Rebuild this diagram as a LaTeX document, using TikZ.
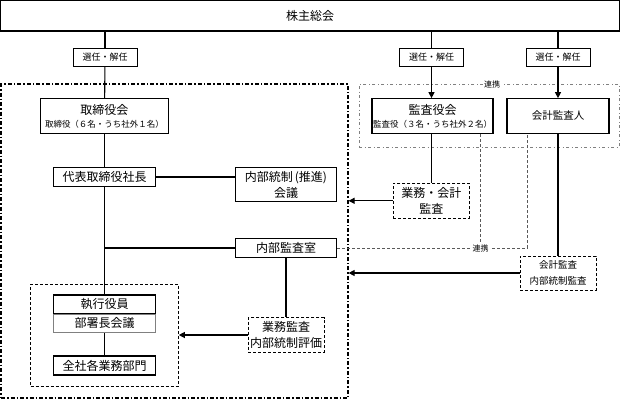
\documentclass[tikz,border=0pt]{standalone}
\usepackage{fontspec}
\setmainfont{Noto Sans CJK JP}
\usetikzlibrary{arrows.meta}

\begin{document}
\begin{tikzpicture}[x=1pt, y=-1pt,
    box/.style={draw, line width=1.1pt, fill=white, inner sep=0pt, align=center, font=\fontsize{12}{16}\selectfont},
    selbox/.style={draw, line width=1pt, fill=white, inner sep=0pt, minimum width=64pt, minimum height=18.5pt, font=\fontsize{9}{10}\selectfont},
    audit/.style={draw, line width=1pt, dash pattern=on 3pt off 2pt, fill=white, inner sep=0pt, align=center, font=\fontsize{12}{16}\selectfont},
    frame/.style={draw, line width=1.2pt, dash pattern=on 4pt off 2pt on 1.5pt off 2pt, inner sep=0pt},
    grayframe/.style={draw=gray, line width=0.9pt, dash pattern=on 3pt off 2.5pt on 1pt off 2.5pt, inner sep=0pt},
    renkei/.style={draw=gray!70!black, line width=0.8pt, dash pattern=on 3pt off 2pt},
    tag/.style={fill=white, inner sep=1.5pt, font=\fontsize{8}{9}\selectfont},
    line/.style={line width=1.1pt},
    arr/.style={line width=1.1pt, -{Triangle[length=6pt,width=6pt]}}]
        \useasboundingbox (0, 0) rectangle (621, 402);
        \node[frame, minimum width=347pt, minimum height=314pt] (bigbox) at (174.5, 241) {};
        \node[grayframe, minimum width=260pt, minimum height=63pt] (graybox) at (489, 115.5) {};
        \node[draw, line width=1pt, dash pattern=on 3pt off 2pt, minimum width=147.6pt, minimum height=102pt] (exebox) at (104.5, 335) {};
        \node[tag] (renkei1) at (492, 84) {連携};
        \node[box, minimum width=619pt, minimum height=30.5pt] (kabunushi) at (310, 15.75) {株主総会};
        \node[selbox] (sen1) at (105, 57.3) {選任・解任};
        \node[selbox] (sen2) at (431.5, 57.3) {選任・解任};
        \node[selbox] (sen3) at (558, 57.3) {選任・解任};
        \node[box, minimum width=127.6pt, minimum height=34.6pt] (torishimari) at (104.5, 116) {取締役会\\[-3pt]{\fontsize{8.5}{10}\selectfont 取締役（６名・うち社外１名）}};
        \node[box, minimum width=121pt, minimum height=34.6pt] (kansayaku) at (432.5, 116) {監査役会\\[-3pt]{\fontsize{8.5}{10}\selectfont 監査役（３名・うち社外２名）}};
        \node[box, minimum width=102pt, minimum height=34.6pt, font=\fontsize{10.5}{12}\selectfont] (kaikei) at (558, 116) {会計監査人};
        \node[box, minimum width=102.4pt, minimum height=18.3pt] (daihyo) at (104.5, 177) {代表取締役社長};
        \node[box, minimum width=101.5pt, minimum height=33.5pt] (tosei) at (286, 184.6) {内部統制\,(推進)\\会議};
        \node[box, minimum width=101.5pt, minimum height=19.4pt] (naibukansa) at (286, 248) {内部監査室};
        \node[audit, minimum width=76pt, minimum height=35pt] (gyokai) at (431.3, 200.8) {業務・会計\\監査};
        \node[audit, minimum width=76pt, minimum height=34pt, font=\fontsize{9.5}{16}\selectfont] (kaikeikansa) at (558, 273) {会計監査\\内部統制監査};
        \node[audit, minimum width=75.7pt, minimum height=34.6pt] (gyomukansa) at (286.2, 335) {業務監査\\内部統制評価};
        \node[box, minimum width=102.4pt, minimum height=19pt] (shikko) at (104.5, 304.5) {執行役員};
        \node[box, draw=gray, line width=0.8pt, minimum width=102.4pt, minimum height=18.7pt] (bushocho) at (104.5, 323.3) {部署長会議};
        \node[box, minimum width=102.4pt, minimum height=19pt] (zensha) at (104.5, 365.5) {全社各業務部門};
        \draw[line] (kabunushi.south -| sen1) -- (sen1);
        \draw[line] (sen1) -- (torishimari);
        \draw[line] (torishimari) -- (daihyo);
        \draw[line] (daihyo) -- (shikko);
        \draw[line] (bushocho) -- (zensha);
        \draw[line] (daihyo.east) -- (daihyo.east -| tosei.west);
        \draw[line] (daihyo.south |- naibukansa) -- (naibukansa.west);
        \draw[line] (kabunushi.south -| sen2) -- (sen2);
        \draw[arr] (sen2.south) -- (sen2.south |- kansayaku.north);
        \draw[line] (kabunushi.south -| sen3) -- (sen3);
        \draw[arr] (sen3.south) -- (kaikei.north);
        \draw[line] (kansayaku.south -| gyokai) -- (gyokai.north);
        \draw[line] (kaikei.south) -- (kaikeikansa.north);
        \draw[line] (naibukansa.south) -- (naibukansa.south |- gyomukansa.north);
        \draw[arr] (gyokai.west) -- (gyokai.west -| bigbox.east);
        \draw[arr] (kaikeikansa.west) -- (kaikeikansa.west -| bigbox.east);
        \draw[arr] (gyomukansa.west) -- (gyomukansa.west -| exebox.east);
        \coordinate (lk) at (480.7, 248);
        \coordinate (rk) at (527.3, 248);
        \draw[renkei] (naibukansa.east) -- (rk) -- (rk |- kaikei.south);
        \draw[renkei] (lk |- kansayaku.south) -- (lk);
        \node[tag] (renkei2) at (lk) {連携};
    \end{tikzpicture}
\end{document}
